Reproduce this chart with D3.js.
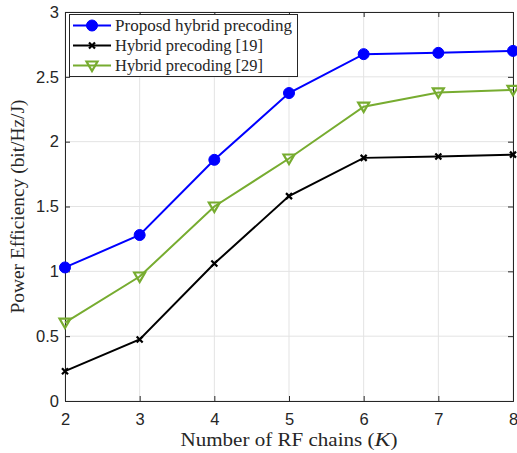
<!DOCTYPE html>
<html>
<head>
<meta charset="utf-8">
<script src="https://cdn.jsdelivr.net/npm/d3@7"></script>
<style>
  body { margin: 0; background: #fff; }
  svg { display: block; }
</style>
</head>
<body>
<div id="grafico"></div>
<script>
// Dados
const chains = [2, 3, 4, 5, 6, 7, 8];
const proposto = [1.03, 1.28, 1.86, 2.375, 2.675, 2.685, 2.70];
const hibrido19 = [0.23, 0.475, 1.06, 1.58, 1.875, 1.885, 1.90];
const hibrido29 = [0.605, 0.96, 1.50, 1.87, 2.27, 2.38, 2.40];
const yTicks = [0, 0.5, 1, 1.5, 2, 2.5, 3];
const nomes = ['Proposd hybrid precoding', 'Hybrid precoding [19]', 'Hybrid precoding [29]'];

const largura = 517;
const altura = 453;
const margem = { left: 65, right: 4, top: 12, bottom: 52 };
const serifa = '"Liberation Serif", "DejaVu Serif", serif';

const svg = d3.select('#grafico').append('svg')
  .attr('width', largura)
  .attr('height', altura);

const x = d3.scaleLinear().domain([2, 8]).range([margem.left, largura - margem.right]);
const y = d3.scaleLinear().domain([0, 3]).range([altura - margem.bottom, margem.top]);

// Estica o texto serifado até a largura medida na figura (fonte LaTeX é mais larga)
function ajustaLargura(sel, alvo) {
  sel.attr('textLength', alvo).attr('lengthAdjust', 'spacingAndGlyphs');
}

// Grade
const grade = svg.append('g');
grade.selectAll('.gx').data(chains).enter().append('line')
  .attr('x1', d => x(d)).attr('x2', d => x(d))
  .attr('y1', y(0)).attr('y2', y(3))
  .attr('stroke', '#e3e3e3').attr('stroke-width', 1);
grade.selectAll('.gy').data(yTicks).enter().append('line')
  .attr('x1', x(2)).attr('x2', x(8))
  .attr('y1', d => y(d)).attr('y2', d => y(d))
  .attr('stroke', '#e3e3e3').attr('stroke-width', 1);

// Eixos (ticks para dentro, caixa completa)
const eixoX = d3.axisBottom(x).tickValues(chains).tickSize(-5).tickPadding(12).tickFormat(d3.format('d'));
const eixoY = d3.axisLeft(y).tickValues(yTicks).tickSize(-5).tickPadding(6).tickFormat(d => d);
const eixoTopo = d3.axisTop(x).tickValues(chains).tickSize(-5).tickFormat('');
const eixoDir = d3.axisRight(y).tickValues(yTicks).tickSize(-5).tickFormat('');

function estilo(g) {
  g.selectAll('path').attr('stroke', '#262626').attr('stroke-width', 1);
  g.selectAll('line').attr('stroke', '#262626');
  g.selectAll('text').attr('fill', '#262626')
    .style('font-family', '"Liberation Sans", Arial, sans-serif')
    .style('font-size', '16.5px');
}

svg.append('g').attr('transform', `translate(0,${y(0)})`).call(eixoX).call(estilo);
svg.append('g').attr('transform', `translate(${x(2)},0)`).call(eixoY).call(estilo);
svg.append('g').attr('transform', `translate(0,${y(3)})`).call(eixoTopo).call(estilo);
svg.append('g').attr('transform', `translate(${x(8)},0)`).call(eixoDir).call(estilo);

// Séries
const series = [
  { nome: nomes[0], valores: proposto, cor: '#0000ff', marcador: 'circulo', largura: 177 },
  { nome: nomes[1], valores: hibrido19, cor: '#000000', marcador: 'x', largura: 148 },
  { nome: nomes[2], valores: hibrido29, cor: '#77ac30', marcador: 'triangulo', largura: 148 }
];

function desenhaMarcador(g, tipo, cor) {
  if (tipo === 'circulo') {
    g.append('circle').attr('r', 5.5).attr('fill', cor).attr('stroke', cor);
  } else if (tipo === 'x') {
    g.append('path').attr('d', 'M-3,-3L3,3M-3,3L3,-3')
      .attr('stroke', cor).attr('stroke-width', 2.2).attr('fill', 'none');
  } else {
    g.append('path').attr('d', 'M-5.5,-4L5.5,-4L0,5.5Z')
      .attr('stroke', cor).attr('stroke-width', 2.2).attr('fill', 'none')
      .attr('stroke-linejoin', 'miter');
  }
}

const linha = d3.line().x((d, i) => x(chains[i])).y(d => y(d));

// Ordem de desenho: preta, verde, azul
[series[1], series[2], series[0]].forEach(s => {
  svg.append('path')
    .datum(s.valores)
    .attr('d', linha)
    .attr('fill', 'none')
    .attr('stroke', s.cor)
    .attr('stroke-width', 2);
  s.valores.forEach((v, i) => {
    const g = svg.append('g').attr('transform', `translate(${x(chains[i])},${y(v)})`);
    desenhaMarcador(g, s.marcador, s.cor);
  });
});

// Legenda
const legenda = svg.append('g');
legenda.append('rect')
  .attr('x', 69.5).attr('y', 14.5).attr('width', 228).attr('height', 62)
  .attr('fill', '#fff').attr('stroke', '#262626').attr('stroke-width', 1);
series.forEach((s, i) => {
  const cy = 25.5 + i * 20;
  legenda.append('line')
    .attr('x1', 73).attr('x2', 111).attr('y1', cy).attr('y2', cy)
    .attr('stroke', s.cor).attr('stroke-width', 2);
  const g = legenda.append('g').attr('transform', `translate(92,${cy})`);
  desenhaMarcador(g, s.marcador, s.cor);
  legenda.append('text')
    .attr('x', 115).attr('y', cy + 5.5)
    .attr('fill', '#262626')
    .style('font-family', serifa)
    .style('font-size', '17.5px')
    .text(s.nome)
    .call(ajustaLargura, s.largura);
});

// Títulos dos eixos
const rotuloX = svg.append('text')
  .attr('x', (x(2) + x(8)) / 2).attr('y', 446)
  .attr('text-anchor', 'middle')
  .attr('fill', '#262626')
  .style('font-family', serifa)
  .style('font-size', '18px');
rotuloX.append('tspan').text('Number of RF chains (').call(ajustaLargura, 194);
rotuloX.append('tspan').style('font-style', 'italic').text('K').call(ajustaLargura, 16);
rotuloX.append('tspan').text(')').call(ajustaLargura, 7);

svg.append('text')
  .attr('transform', `translate(24,${(y(0) + y(3)) / 2}) rotate(-90)`)
  .attr('text-anchor', 'middle')
  .attr('fill', '#262626')
  .style('font-family', serifa)
  .style('font-size', '18px')
  .text('Power Efficiency (bit/Hz/J)')
  .call(ajustaLargura, 214);
</script>
</body>
</html>
